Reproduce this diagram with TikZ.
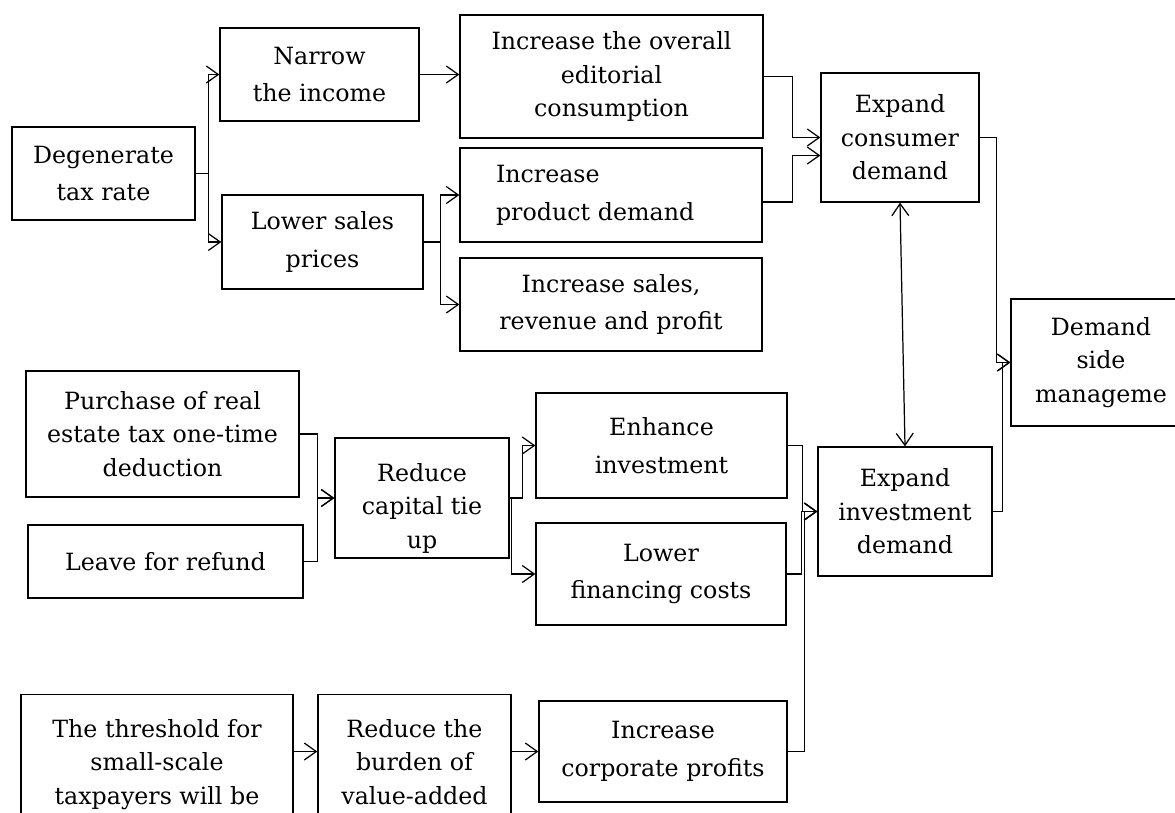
\documentclass[tikz,border=0pt]{standalone}
\usepackage{fontspec}
\setmainfont{DejaVu Serif}
\usetikzlibrary{arrows.meta,calc}

\begin{document}
\begin{tikzpicture}[x=0.02cm, y=-0.02cm,
            box_style/.style={draw, line width=0.8pt, align=center, inner sep=1pt, fill=white,
                font=\fontsize{13.5}{19}\selectfont},
            wide_lines/.style={font=\fontsize{13.5}{21.5}\selectfont},
            link_style/.style={draw, line width=0.7pt, -{Straight Barb[length=2.4mm,width=3.4mm]}},
            both_style/.style={draw, line width=0.7pt,
                {Straight Barb[length=2.4mm,width=3.4mm]}-{Straight Barb[length=2.4mm,width=3.4mm]}}]
            \useasboundingbox (0,0) rectangle (1175,812);
            \clip (0,0) rectangle (1175,812);
            % consumption branch
            \node[box_style, wide_lines, minimum width=3.66cm, minimum height=1.86cm] (deg) at (103.5,173.5) {Degenerate\\tax rate};
            \node[box_style, wide_lines, minimum width=3.98cm, minimum height=1.86cm] (narrow) at (319.5,74.5) {Narrow\\the income};
            \node[box_style, wide_lines, minimum width=4.02cm, minimum height=1.88cm] (lower) at (322.5,242) {Lower sales\\prices};
            \node[box_style, minimum width=6.06cm, minimum height=2.46cm] (editorial) at (611.5,76.5) {Increase the overall\\editorial\\consumption};
            \node[box_style, wide_lines, minimum width=6.04cm, minimum height=1.88cm, text width=4.6cm, align=left] (product) at (611,195) {Increase\\product demand};
            \node[box_style, wide_lines, minimum width=6.04cm, minimum height=1.86cm] (sales) at (611,304.5) {Increase sales,\\revenue and profit};
            \node[box_style, minimum width=3.16cm, minimum height=2.58cm] (consumer) at (900,137.5) {Expand\\consumer\\demand};
            \node[box_style, minimum width=3.6cm, minimum height=2.54cm] (demandside) at (1101,362.5) {Demand\\side\\manageme};
            % investment branch
            \node[box_style, minimum width=5.46cm, minimum height=2.52cm] (purchase) at (162.5,434) {Purchase of real\\estate tax one-time\\deduction};
            \node[box_style, minimum width=5.5cm, minimum height=1.46cm] (refund) at (165.5,561.5) {Leave for refund};
            \node[box_style, minimum width=3.48cm, minimum height=2.4cm, inner ysep=0pt] (capital) at (422,498) {\rule{0pt}{22pt}Reduce\\capital tie\\up};
            \node[box_style, wide_lines, minimum width=5.02cm, minimum height=2.1cm] (enhance) at (661.5,445.5) {Enhance\\investment};
            \node[box_style, wide_lines, minimum width=5cm, minimum height=2.04cm] (finance) at (661,574) {Lower\\financing costs};
            \node[box_style, minimum width=3.48cm, minimum height=2.58cm] (invest) at (905,511.5) {Expand\\investment\\demand};
            % profit branch
            \node[box_style, minimum width=5.44cm, inner ysep=14pt, anchor=north] (threshold) at (157,694) {The threshold for\\small-scale\\taxpayers will be};
            \node[box_style, minimum width=3.86cm, inner ysep=14pt, anchor=north] (burden) at (414.5,694) {Reduce the\\burden of\\value-added};
            \node[box_style, wide_lines, minimum width=4.96cm, minimum height=2.02cm] (profits) at (663,751.5) {Increase\\corporate profits};

            \draw[link_style] (deg.east) -- ++(13,0) |- (narrow.west);
            \draw[link_style] (deg.east) -- ++(13,0) |- (lower.west);
            \draw[link_style] (narrow.east) -- (narrow.east -| editorial.west);
            \draw[link_style] (lower.east) -- ++(17,0) |- (product.west);
            \draw[link_style] (lower.east) -- ++(17,0) |- (sales.west);
            \draw[link_style] (editorial.east) -- ++(29,0) |- (consumer.west);
            \draw[link_style] ($(product.east)+(0,7)$) -- ++(30,0) |- ($(consumer.west)+(0,18)$);
            \draw[link_style] (consumer.east) -- ++(17,0) |- (demandside.west);
            \draw[link_style] (invest.east) -- ++(10,0) |- (demandside.west);
            \draw[both_style] (consumer.south) -- (invest.north);
            \draw[link_style] (purchase.east) -- ++(18,0) |- (capital.west);
            \draw[link_style] (refund.east) -- ++(14,0) |- (capital.west);
            \draw[link_style] (capital.east) -- ++(13,0) |- (enhance.west);
            \draw[link_style] (capital.east) -- ++(2,0) |- (finance.west);
            \draw[link_style] (enhance.east) -- ++(15,0) |- (invest.west);
            \draw[link_style] (finance.east) -- ++(15,0) |- (invest.west);
            \draw[link_style] (profits.east) -- ++(17,0) |- (invest.west);
            \draw[link_style] (threshold.east |- profits) -- (burden.west |- profits);
            \draw[link_style] (burden.east |- profits) -- (profits.west);
        \end{tikzpicture}
\end{document}
